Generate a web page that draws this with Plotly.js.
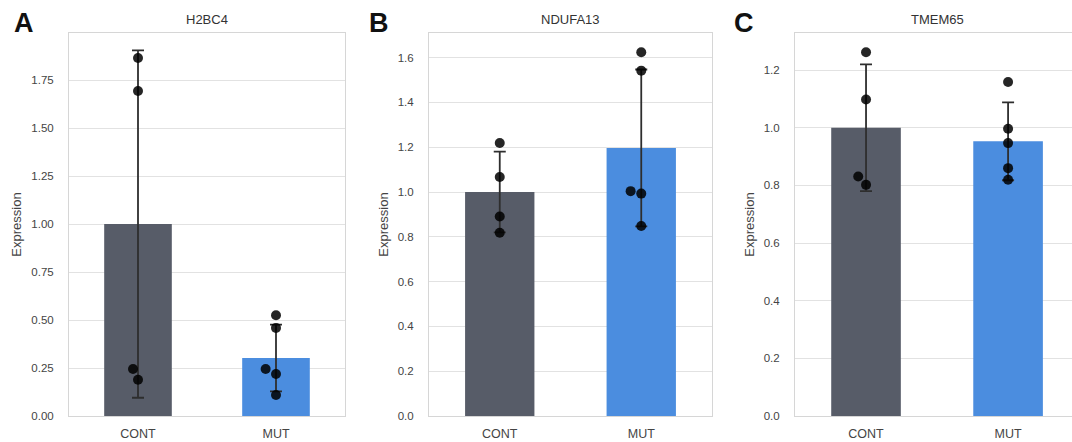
<!DOCTYPE html>
<html>
<head>
<meta charset="utf-8">
<script src="https://cdn.plot.ly/plotly-3.0.1.min.js"></script>
<style>
  html, body { margin: 0; padding: 0; background: #ffffff; overflow: hidden; }
  #chart { width: 1072px; height: 442px; }
</style>
</head>
<body>
<div id="chart"></div>
<script>
// Genes, groups and panel letters
const genes = ['H2BC4', 'NDUFA13', 'TMEM65'];
const groups = ['CONT', 'MUT'];
const panelLetters = ['A', 'B', 'C'];

// Per-sample expression values
const h2bc4Cont = [1.865, 1.693, 0.245, 0.189];
const h2bc4Mut = [0.525, 0.459, 0.245, 0.219, 0.109];
const ndufa13Cont = [1.219, 1.067, 0.891, 0.818];
const ndufa13Mut = [1.624, 1.542, 1.004, 0.993, 0.848];
const tmem65Cont = [1.262, 1.098, 0.831, 0.802];
const tmem65Mut = [1.159, 0.997, 0.947, 0.860, 0.820];

// Group means and standard deviations (one entry per gene)
const meanCont = [1.0, 1.0, 1.0];
const meanMut = [0.302, 1.197, 0.953];
const sdCont = [0.905, 0.18, 0.22];
const sdMut = [0.174, 0.35, 0.135];

// Strip-plot horizontal spread of the samples, in category units
const spreadCont = [[0, 0, -0.036, 0], [0, 0, 0, 0], [0, 0, -0.055, 0]];
const spreadMut = [[0, 0, -0.075, 0, 0], [0, 0, -0.075, 0, 0], [0, 0, 0, 0, 0]];

const samplesCont = [h2bc4Cont, ndufa13Cont, tmem65Cont];
const samplesMut = [h2bc4Mut, ndufa13Mut, tmem65Mut];

// Axis settings per panel
const yMax = [1.995, 1.71, 1.329];
const yStep = [0.25, 0.2, 0.2];
const yFormat = ['.2f', '.1f', '.1f'];

const W = 1072, H = 442;
const px = v => v / W;
const xDomains = [[px(69), px(345)], [px(429), px(712)], [px(795), 1]];
const xRanges = [[-0.5, 1.5], [-0.5, 1.5], [-0.5, 1.45]];
const letterX = [24, 379, 744];

const barColors = ['#575c68', '#4b8ddf'];
const textColor = '#444444';
const family = 'Liberation Sans, Arial, sans-serif';
const yTickFont = { family: family, size: 11.5, color: textColor };
const xTickFont = { family: family, size: 12.5, color: textColor };
const labelFont = { family: family, size: 13, color: textColor };

const traces = [];
const layout = {
  width: W, height: H,
  margin: { l: 0, r: 0, t: 33, b: 26 },
  paper_bgcolor: '#ffffff',
  plot_bgcolor: '#ffffff',
  showlegend: false,
  font: yTickFont,
  annotations: []
};

genes.forEach((gene, i) => {
  const n = i === 0 ? '' : String(i + 1);
  const xa = 'x' + n, ya = 'y' + n;

  traces.push({
    type: 'bar',
    x: [0, 1],
    y: [meanCont[i], meanMut[i]],
    width: 0.49,
    marker: { color: barColors, line: { width: 0 } },
    error_y: {
      type: 'data', array: [sdCont[i], sdMut[i]], visible: true,
      color: '#2e2e2e', thickness: 1.8, width: 6
    },
    xaxis: xa, yaxis: ya, hoverinfo: 'skip'
  });

  const xs = [], ys = [];
  samplesCont[i].forEach((v, k) => { xs.push(0 + spreadCont[i][k]); ys.push(v); });
  samplesMut[i].forEach((v, k) => { xs.push(1 + spreadMut[i][k]); ys.push(v); });
  traces.push({
    type: 'scatter', mode: 'markers',
    x: xs, y: ys,
    marker: { color: '#000000', size: 10, opacity: 0.85 },
    xaxis: xa, yaxis: ya, hoverinfo: 'skip'
  });

  layout['xaxis' + n] = {
    domain: xDomains[i],
    range: xRanges[i],
    anchor: ya,
    tickvals: [0, 1],
    ticktext: groups,
    ticks: '',
    ticklabelstandoff: 6,
    showgrid: false,
    zeroline: false,
    showline: true,
    linecolor: '#d6d6d6',
    linewidth: 1,
    mirror: true,
    fixedrange: true,
    tickfont: xTickFont
  };
  layout['yaxis' + n] = {
    domain: [0, 1],
    range: [0, yMax[i]],
    anchor: xa,
    dtick: yStep[i],
    tick0: 0,
    tickformat: yFormat[i],
    ticks: '',
    ticklabelstandoff: 12,
    showgrid: true,
    gridcolor: '#e2e2e2',
    gridwidth: 1,
    zeroline: false,
    showline: true,
    linecolor: '#d6d6d6',
    linewidth: 1,
    mirror: i < 2,
    fixedrange: true,
    tickfont: yTickFont,
    title: { text: 'Expression', font: labelFont, standoff: 6 }
  };

  // Gene name above each panel
  layout.annotations.push({
    text: gene, xref: xa, yref: 'paper', x: 0.5, y: 1 + 13 / 383,
    xanchor: 'center', yanchor: 'middle', showarrow: false,
    font: { family: family, size: 13, color: '#333333' }
  });
  // Panel letter
  layout.annotations.push({
    text: '<b>' + panelLetters[i] + '</b>', xref: 'paper', yref: 'paper',
    x: px(letterX[i]), y: 1 + 10 / 383,
    xanchor: 'center', yanchor: 'middle', showarrow: false,
    font: { family: family, size: 27, color: '#111111' }
  });
});

Plotly.newPlot('chart', traces, layout, { staticPlot: true, displayModeBar: false });
</script>
</body>
</html>
